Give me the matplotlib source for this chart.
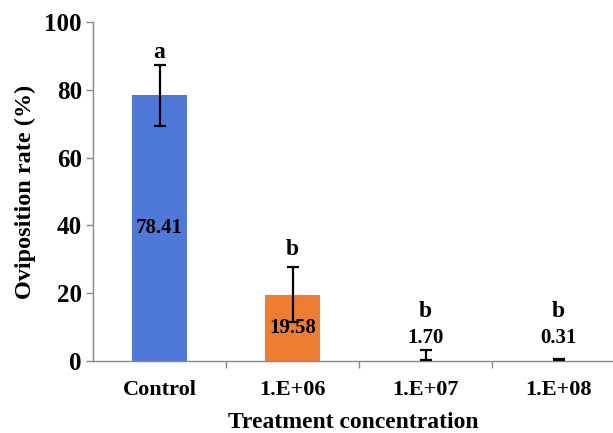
import matplotlib
matplotlib.use("Agg")
import matplotlib.pyplot as plt

categories = ["Control", "1.E+06", "1.E+07", "1.E+08"]
rates = [78.41, 19.58, 1.70, 0.31]
errors = [9.0, 8.2, 1.5, 0.15]
letters = ["a", "b", "b", "b"]
letter_y = [91.0, 33.0, 14.5, 14.5]
facecolors = ["#4E79D8", "#ED7D31", "none", "none"]

plt.rcParams["font.family"] = ["Liberation Serif", "DejaVu Serif"]
plt.rcParams["font.weight"] = "bold"

fig = plt.figure(figsize=(6.13, 4.33), dpi=100)
ax = fig.add_axes([93 / 613, 72 / 433, 520 / 613, 339 / 433])

x = list(range(len(categories)))
ax.bar(x, rates, width=0.41, color=facecolors, zorder=2)
ax.errorbar(x, rates, yerr=errors, fmt="none", ecolor="black",
            elinewidth=1.6, capsize=4, capthick=1.6, zorder=3)

for xi, v, let, ly in zip(x, rates, letters, letter_y):
    label_y = v / 2 if v > 10 else 6.8
    ax.text(xi, label_y, f"{v:.2f}", ha="center", va="center",
            fontsize=15, fontweight="bold", zorder=4)
    ax.text(xi, ly, let, ha="center", va="center",
            fontsize=17, fontweight="bold", zorder=4)

ax.set_xlim(-0.5, -0.5 + 520 / 133)
ax.set_ylim(0, 100)
ax.set_yticks([0, 20, 40, 60, 80, 100])
ax.set_xticks([0.5, 1.5, 2.5], minor=False)
ax.set_xticklabels([])
ax.set_xticks(x, minor=True)
ax.set_xticklabels(categories, minor=True)
ax.tick_params(axis="x", which="major", direction="out", length=5,
               color="#888888", width=1)
ax.tick_params(axis="x", which="minor", length=0, pad=14, labelsize=16)
ax.tick_params(axis="y", direction="out", length=5, color="#888888",
               width=1, labelsize=18, pad=3)
for lab in ax.get_xticklabels(minor=True) + ax.get_yticklabels():
    lab.set_fontweight("bold")

for side in ("top", "right"):
    ax.spines[side].set_visible(False)
for side in ("left", "bottom"):
    ax.spines[side].set_color("#888888")
    ax.spines[side].set_linewidth(1)

ax.set_ylabel("Oviposition rate (%)", fontsize=17.5, fontweight="bold", labelpad=6)
ax.set_xlabel("Treatment concentration", fontsize=17, fontweight="bold", labelpad=8)

fig.savefig("out.png", dpi=100)
